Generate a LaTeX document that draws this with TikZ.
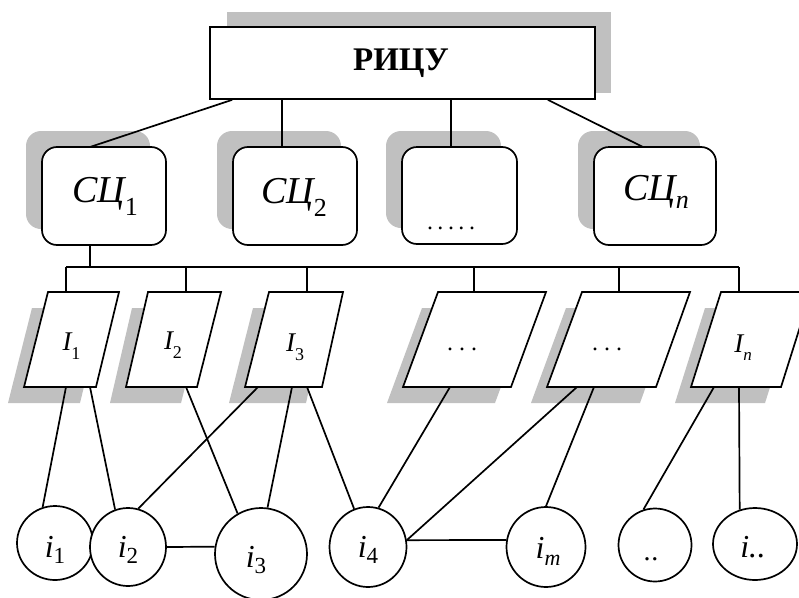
\documentclass[tikz,border=0pt]{standalone}
\usepackage{fontspec}
\setmainfont{Liberation Serif}
\usetikzlibrary{shapes.geometric}
\definecolor{shadowgray}{RGB}{192,192,192}
\newcommand\scl[1]{{\fontsize{38}{38}\selectfont\itshape СЦ}\raisebox{-13pt}{\fontsize{26}{26}\selectfont #1}}
\newcommand\IIl[1]{{\fontsize{27}{27}\selectfont\itshape I}\raisebox{-9pt}{\fontsize{18}{18}\selectfont #1}}
\newcommand\iil[1]{{\fontsize{32}{32}\selectfont\itshape i}\raisebox{-6pt}{\fontsize{23}{23}\selectfont #1}}
\tikzset{
  ln/.style={line width=1.7pt},
  shd/.style={fill=shadowgray, draw=none},
  rbox/.style={draw, line width=1.7pt, fill=white, rounded corners=15pt, minimum height=98pt, inner sep=0pt},
  circ/.style={draw, line width=1.7pt, ellipse, fill=white, inner sep=0pt},
  lbl/.style={anchor=base, inner sep=0pt}
}
\begin{document}
\begin{tikzpicture}[x=1pt,y=-1pt]
\useasboundingbox (0,0) rectangle (799,597);
\clip (0,0) rectangle (799,597);
\fill[white] (0,0) rectangle (799,597);

% ---- top box
\fill[shd] (227,12) rectangle (611,93);
\node[draw, line width=1.7pt, fill=white, minimum width=385pt, minimum height=72pt, inner sep=0pt] (top) at (402.5,63) {};
\node[lbl] (toplbl) at (401,70) {\fontsize{33}{33}\selectfont\bfseries РИЦУ};

% ---- second level shadows
\fill[shd, rounded corners=15pt] (26,131) rectangle (150,229);
\fill[shd, rounded corners=15pt] (217,131) rectangle (341,229);
\fill[shd, rounded corners=15pt] (386,131) rectangle (501,228);
\fill[shd, rounded corners=15pt] (578,131) rectangle (700,229);

% ---- connectors from top
\draw[ln] ([xshift=23pt]top.south west) -- (90,147) coordinate (sc1top);
\draw[ln] (282,99) coordinate (t2) -- (282,147) coordinate (sc2top);
\draw[ln] (451,99) coordinate (t3) -- (451,147) coordinate (sc3top);
\draw[ln] ([xshift=-48pt]top.south east) -- (643,147) coordinate (sc4top);

% ---- second level boxes
\node[rbox, minimum width=124pt] (sc1) at (104,196) {};
\node[rbox, minimum width=124pt] (sc2) at (295,196) {};
\node[rbox, minimum width=115pt, minimum height=97pt] (sc3) at (459.5,195.5) {};
\node[rbox, minimum width=122pt] (sc4) at (655,196) {};

\node[lbl] (sc1l) at (105,202) {\scl{1}};
\node[lbl] (sc2l) at (294,203) {\scl{2}};
\node[lbl] (sc3l) at (451,229) {\fontsize{24}{24}\selectfont .\hspace{4.5pt}.\hspace{4.5pt}.\hspace{4.5pt}.\hspace{4.5pt}.};
\node[lbl] (sc4l) at (656,200) {{\fontsize{38}{38}\selectfont\itshape СЦ}\raisebox{-8pt}{\fontsize{26}{26}\selectfont\itshape n}};

% ---- bus
\coordinate (b1) at (66,267);
\coordinate (b2) at (186,267);
\coordinate (b3) at (307,267);
\coordinate (b4) at (474,267);
\coordinate (b5) at (619,267);
\coordinate (b6) at (739,267);
\draw[ln] ([xshift=-14pt]sc1.south) -- (90,267) coordinate (bc);
\draw[ln] (b1) -- (b6);

% ---- parallelogram shadows
\fill[shd, shift={(-16,16)}] (48,292) -- (119,292) -- (96,387) -- (24,387) -- cycle;
\fill[shd, shift={(-16,16)}] (148,292) -- (221,292) -- (197,387) -- (126,387) -- cycle;
\fill[shd, shift={(-16,16)}] (269,292) -- (343,292) -- (322,387) -- (245,387) -- cycle;
\fill[shd, shift={(-16,16)}] (438,292) -- (546,292) -- (511,387) -- (403,387) -- cycle;
\fill[shd, shift={(-16,16)}] (582,292) -- (690,292) -- (656,387) -- (547,387) -- cycle;
\fill[shd, shift={(-16,16)}] (721,292) -- (811,292) -- (781,387) -- (691,387) -- cycle;

% ---- drops
\coordinate (p1t) at (66,292);
\coordinate (p2t) at (186,292);
\coordinate (p3t) at (307,292);
\coordinate (p4t) at (474,292);
\coordinate (p5t) at (619,292);
\coordinate (pnt) at (739,292);
\draw[ln] (b1) -- (p1t);
\draw[ln] (b2) -- (p2t);
\draw[ln] (b3) -- (p3t);
\draw[ln] (b4) -- (p4t);
\draw[ln] (b5) -- (p5t);
\draw[ln] (b6) -- (pnt);

% ---- parallelograms
\draw[ln, fill=white] (48,292) -- (119,292) -- (96,387) -- (24,387) -- cycle;
\draw[ln, fill=white] (148,292) -- (221,292) -- (197,387) -- (126,387) -- cycle;
\draw[ln, fill=white] (269,292) -- (343,292) -- (322,387) -- (245,387) -- cycle;
\draw[ln, fill=white] (438,292) -- (546,292) -- (511,387) -- (403,387) -- cycle;
\draw[ln, fill=white] (582,292) -- (690,292) -- (656,387) -- (547,387) -- cycle;
\draw[ln, fill=white] (721,292) -- (811,292) -- (781,387) -- (691,387) -- cycle;

\node[lbl] (p1l) at (71.5,350) {\IIl{1}};
\node[lbl] (p2l) at (173,349) {\IIl{2}};
\node[lbl] (p3l) at (295,351) {\IIl{3}};
\node[lbl] (p4l) at (462,350) {\fontsize{24}{24}\selectfont .\hspace{6pt}.\hspace{6pt}.};
\node[lbl] (p5l) at (607,350) {\fontsize{24}{24}\selectfont .\hspace{6pt}.\hspace{6pt}.};
\node[lbl] (pnl) at (743,352) {{\fontsize{27}{27}\selectfont\itshape I}\raisebox{-8pt}{\fontsize{17}{17}\selectfont\itshape n}};

% ---- bottom connection points
\coordinate (p1b1) at (66,387);
\coordinate (p1b2) at (90,387);
\coordinate (p2b) at (186,387);
\coordinate (p3b1) at (258,387);
\coordinate (p3b2) at (292,387);
\coordinate (p3b3) at (307,387);
\coordinate (p4b) at (450,387);
\coordinate (p5b1) at (577,387);
\coordinate (p5b2) at (594,387);
\coordinate (pnb1) at (714,387);
\coordinate (pnb2) at (739,387);

% ---- circles
\node[circ, minimum width=76pt, minimum height=74pt] (c1) at (55,543) {};
\node[circ, minimum width=76pt, minimum height=78pt] (c2) at (128,547) {};
\node[circ, minimum width=92pt, minimum height=92pt] (c3) at (261,554) {};
\node[circ, minimum width=77pt, minimum height=80pt] (c4) at (368,547) {};
\node[circ, minimum width=79pt, minimum height=80pt] (cm) at (546,547) {};
\node[circ, minimum width=73pt, minimum height=73pt] (cd) at (655,545) {};
\node[circ, minimum width=84pt, minimum height=72pt] (ci) at (755,544) {};

% ---- connectors to circles
\draw[ln] (p1b1) -- (c1.109);
\draw[ln] (p1b2) -- (c2.109);
\draw[ln] (p2b) -- (c3.120);
\draw[ln] (p3b1) -- (c2.75);
\draw[ln] (p3b2) -- (c3.82);
\draw[ln] (p3b3) -- (c4.110);
\draw[ln] (p4b) -- (c4.75);
\draw[ln] (p5b1) -- (c4.10);
\draw[ln] (p5b2) -- (cm.90);
\draw[ln] (pnb1) -- (cd.108);
\draw[ln] (pnb2) -- (ci.114);
\draw[ln] (c2.0) -- (c3.171);
\draw[ln] (c4.10) -- (cm.170);

% ---- circle labels
\node[lbl] (c1l) at (55,557) {\iil{1}};
\node[lbl] (c2l) at (128,557) {\iil{2}};
\node[lbl] (c3l) at (256,567) {\iil{3}};
\node[lbl] (c4l) at (368,557) {\iil{4}};
\node[lbl] (cml) at (548,558) {{\fontsize{32}{32}\selectfont\itshape i}\raisebox{-7pt}{\fontsize{22}{22}\selectfont\itshape m}};
\node[lbl] (cdl) at (651,560) {\fontsize{28}{28}\selectfont .\hspace{1pt}.};
\node[lbl] (cil) at (753,557) {\fontsize{32}{32}\selectfont\itshape i.\hspace{0.5pt}.};
\end{tikzpicture}
\end{document}
